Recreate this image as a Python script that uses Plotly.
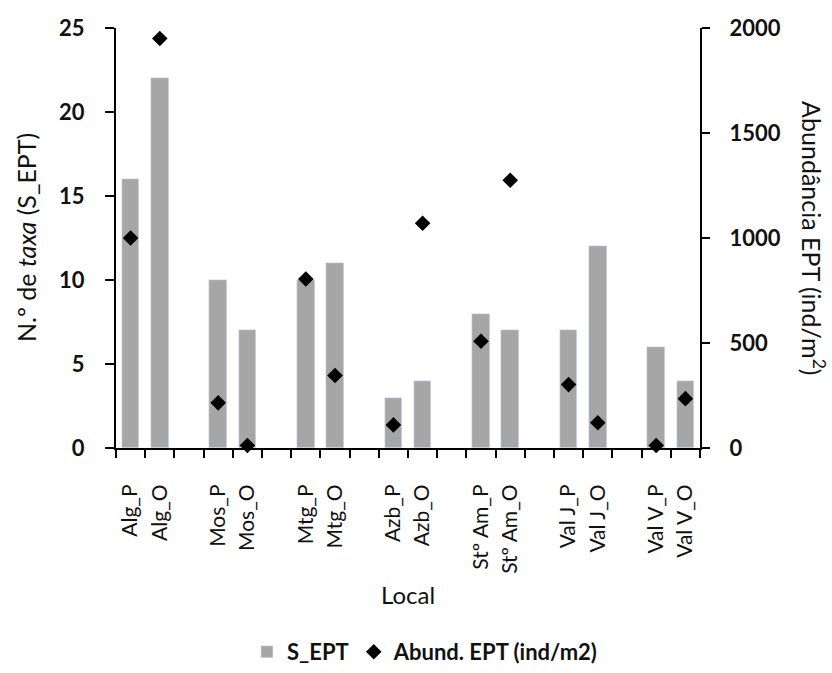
import plotly.graph_objects as go

# Data
groups = ["Alg", "Mos", "Mtg", "Azb", "Stº Am", "Val J", "Val V"]
categories = ["Alg_P", "Alg_O", "Mos_P", "Mos_O", "Mtg_P", "Mtg_O", "Azb_P", "Azb_O",
              "Stº Am_P", "Stº Am_O", "Val J_P", "Val J_O", "Val V_P", "Val V_O"]
s_ept = [16, 22, 10, 7, 10, 11, 3, 4, 8, 7, 7, 12, 6, 4]
abund = [1000, 1950, 215, 12, 805, 345, 110, 1070, 508, 1275, 302, 120, 12, 235]

# slot positions: two bars per group with an empty slot between groups
xpos = []
for i in range(len(categories)):
    g, k = divmod(i, 2)
    xpos.append(g * 3 + k)
nslots = xpos[-1] + 1

FONT = "Lato"
bar_color = "#a6a6a6"

fig = go.Figure()
fig.add_trace(go.Bar(x=xpos, y=s_ept, name="S_EPT", marker_color=bar_color,
                     width=0.6, yaxis="y"))
fig.add_trace(go.Scatter(x=xpos, y=abund, name="Abund. EPT (ind/m2)", mode="markers",
                         marker=dict(symbol="diamond", size=12, color="black"),
                         yaxis="y2", cliponaxis=False))

fig.update_layout(
    width=832, height=673,
    margin=dict(l=116, r=132, t=28, b=225, autoexpand=False),
    paper_bgcolor="white", plot_bgcolor="white",
    font=dict(family=FONT, color="#111", size=20),
    showlegend=True,
    legend=dict(orientation="h", x=0.529, xanchor="center",
                yref="container", y=-0.008, yanchor="bottom",
                font=dict(size=22, family=FONT, weight="bold"), itemwidth=30,
                traceorder="normal"),
    bargap=0,
    xaxis=dict(
        range=[-0.5, nslots - 0.5],
        tickmode="array", tickvals=xpos, ticktext=categories,
        tickangle=-90, ticks="", tickfont=dict(size=21),
        ticklabelstandoff=26,
        showline=True, linecolor="black", linewidth=2,
        showgrid=False, zeroline=False,
        minor=dict(ticks="outside", tick0=-0.5, dtick=1, ticklen=8, tickwidth=2,
                   tickcolor="black", showgrid=False),
        title=dict(text="Local", font=dict(size=24), standoff=14),
    ),
    yaxis=dict(
        range=[0, 25], dtick=5, tick0=0,
        ticks="outside", ticklen=9, tickwidth=2, tickcolor="black",
        showline=True, linecolor="black", linewidth=2,
        showgrid=False, zeroline=False,
        tickfont=dict(size=22, weight="bold"),
        ticklabelstandoff=16,
    ),
    yaxis2=dict(
        range=[0, 2000], dtick=500, tick0=0, overlaying="y", side="right",
        ticks="outside", ticklen=8, tickwidth=2, tickcolor="black",
        showline=True, linecolor="black", linewidth=2,
        showgrid=False, zeroline=False,
        tickfont=dict(size=22, weight="bold"),
        ticklabelstandoff=15,
    ),
    annotations=[
        dict(text="N.º de <i>taxa</i> (S_EPT)", xref="paper", yref="paper",
             x=-0.154, y=0.5, xanchor="center", yanchor="middle", textangle=-90,
             showarrow=False, font=dict(size=25, family=FONT)),
        dict(text="Abundância EPT (ind/m<sup>2</sup>)", xref="paper", yref="paper",
             x=1.195, y=0.5, xanchor="center", yanchor="middle", textangle=90,
             showarrow=False, font=dict(size=25, family=FONT)),
    ],
)

fig.write_html("out.html")
